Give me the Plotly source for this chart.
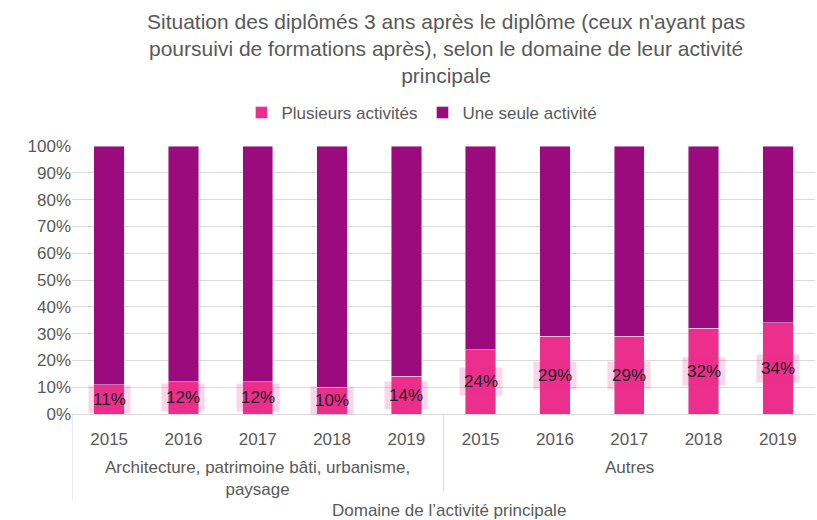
import plotly.graph_objects as go

groups = ["Architecture, patrimoine bâti, urbanisme,<br>paysage", "Autres"]
years = ["2015", "2016", "2017", "2018", "2019"]
plusieurs = [11, 12, 12, 10, 14, 24, 29, 29, 32, 34]
une_seule = [89, 88, 88, 90, 86, 76, 71, 71, 68, 66]
labels = ["11%", "12%", "12%", "10%", "14%", "24%", "29%", "29%", "32%", "34%"]

tick_text = years * len(groups)
xs = list(range(len(tick_text)))

PINK = "#EC2F8C"
PURPLE = "#9C0B7E"
GRAY = "#595959"
FONT = "Liberation Sans, Arial, sans-serif"

fig = go.Figure()
fig.add_trace(go.Bar(x=xs, y=plusieurs, name="Plusieurs activités", marker_color=PINK, width=0.41))
fig.add_trace(go.Bar(x=xs, y=une_seule, name="Une seule activité", marker_color=PURPLE, width=0.41))

annotations = []
for x, v, t in zip(xs, plusieurs, labels):
    annotations.append(dict(x=x, y=v / 2, xref="x", yref="y", text=t, showarrow=False,
                            font=dict(size=17, color="#222222", family=FONT),
                            bgcolor="rgba(236,47,140,0.2)", borderpad=4))

n = len(years)
for gi, g in enumerate(groups):
    center = gi * n + (n - 1) / 2
    annotations.append(dict(x=center, y=0, xref="x", yref="paper", text=g, showarrow=False,
                            yanchor="top", yshift=-42, font=dict(size=17, color=GRAY, family=FONT)))

annotations.append(dict(x=0.507, y=0, xref="paper", yref="paper", text="Domaine de l’activité principale",
                        showarrow=False, yanchor="top", yshift=-85,
                        font=dict(size=17, color=GRAY, family=FONT)))

shapes = [
    dict(type="line", xref="x", yref="paper", x0=-0.5, x1=-0.5, y0=0, y1=-0.32,
         line=dict(color="#D9D9D9", width=1)),
    dict(type="line", xref="x", yref="paper", x0=n - 0.5, x1=n - 0.5, y0=0, y1=-0.285,
         line=dict(color="#D9D9D9", width=1)),
]

fig.update_layout(
    width=817, height=520,
    barmode="stack",
    plot_bgcolor="white", paper_bgcolor="white",
    font=dict(family=FONT, color=GRAY),
    title=dict(text="Situation des diplômés 3 ans après le diplôme (ceux n'ayant pas<br>poursuivi de formations après), selon le domaine de leur activité<br>principale",
               x=0.546, xanchor="center", y=0.945, yanchor="top",
               font=dict(size=21, color=GRAY, family=FONT)),
    legend=dict(orientation="h", x=0.471, xanchor="center", y=1.123, yanchor="middle",
                font=dict(size=17, color=GRAY, family=FONT), traceorder="normal",
                itemwidth=30),
    margin=dict(l=72, r=2, t=146, b=106),
    annotations=annotations,
    shapes=shapes,
    showlegend=True,
)
fig.update_xaxes(tickmode="array", tickvals=xs, ticktext=tick_text, range=[-0.5, len(xs) - 0.5],
                 showline=True, linecolor="#D9D9D9", ticks="", tickfont=dict(size=17, color=GRAY),
                 showgrid=False, ticklabelstandoff=10)
fig.update_yaxes(range=[0, 100], dtick=10, ticksuffix="%", showgrid=True, gridcolor="#D9D9D9",
                 tickfont=dict(size=17, color=GRAY), zeroline=False, ticks="")

fig.write_html("out.html", config={"displayModeBar": False},
               post_script="document.body.style.margin='0';")
